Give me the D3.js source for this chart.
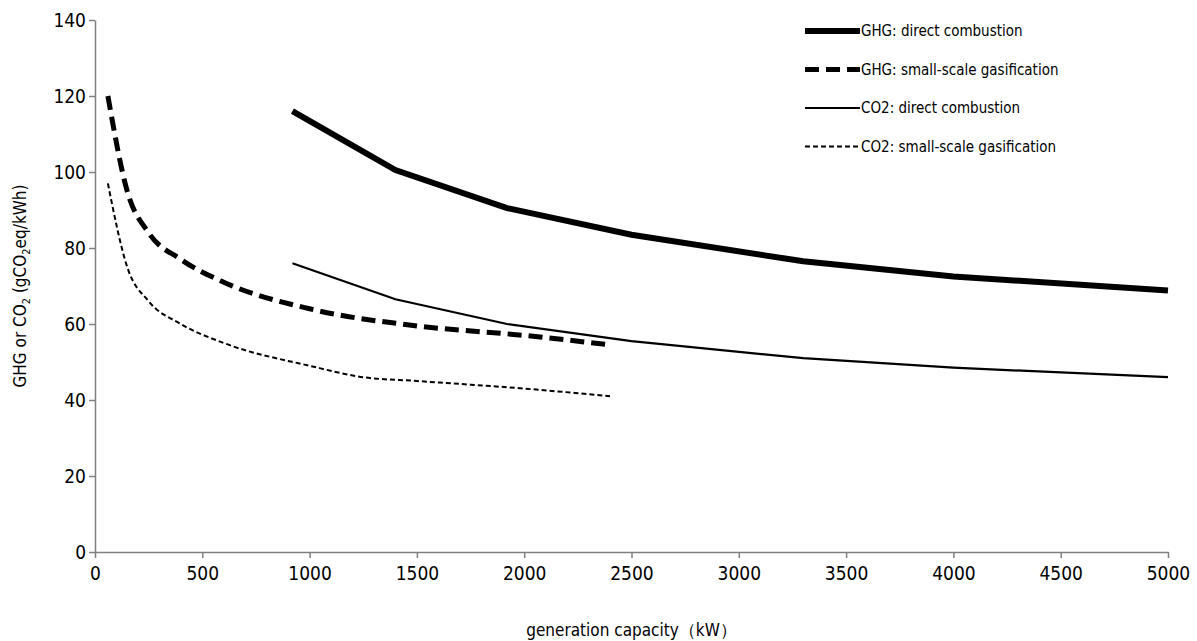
<!DOCTYPE html>
<html><head><meta charset="utf-8">
<script src="https://d3js.org/d3.v7.min.js"></script>
<style>body{margin:0;background:#fff}text{font-family:"Liberation Sans Narrow","DejaVu Sans Condensed",sans-serif}</style>
</head><body><div id="chart"></div>
<script>
// data
const ghgDirect = [[920,116],[1400,100.5],[1920,90.5],[2500,83.5],[3300,76.5],[4000,72.5],[5000,68.8]];
const ghgGasif = [[60,120],[150,95],[250,84],[400,77],[600,71],[1000,64],[1500,59.5],[2000,57],[2400,54.5]];
const co2Direct = [[920,76],[1400,66.5],[1920,60],[2500,55.5],[3300,51],[4000,48.5],[5000,46]];
const co2Gasif = [[60,97],[150,75],[250,66],[400,60],[600,55],[1000,49],[1250,46],[1500,45],[2000,43],[2400,41]];
const xTicks = d3.range(0, 5001, 500);
const yTicks = d3.range(0, 141, 20);

const W = 1197, H = 641;
const m = {left: 95, right: 29, top: 20, bottom: 89};
const svg = d3.select('#chart').append('svg').attr('width', W).attr('height', H);
const x = d3.scaleLinear().domain([0, 5000]).range([m.left, W - m.right]);
const y = d3.scaleLinear().domain([0, 140]).range([H - m.bottom, m.top]);

const xa = svg.append('g').attr('transform', `translate(0,${H - m.bottom})`)
  .call(d3.axisBottom(x).tickValues(xTicks).tickFormat(d3.format('d')).tickSize(6).tickSizeOuter(0));
const ya = svg.append('g').attr('transform', `translate(${m.left},0)`)
  .call(d3.axisLeft(y).tickValues(yTicks).tickSize(6).tickSizeOuter(0));
[xa, ya].forEach(a => {
  a.selectAll('path,line').attr('stroke', '#808080').attr('stroke-width', 1.5);
  a.selectAll('text').attr('font-size', 19).attr('fill', '#000');
});
xa.selectAll('text').attr('dy', '1em');
ya.selectAll('text').attr('dy', '0.35em');

svg.append('text').attr('x', (x(0) + x(5000)) / 2).attr('y', 636).attr('text-anchor', 'middle')
  .attr('font-size', 17).text('generation capacity（kW）');
const yl = svg.append('text').attr('transform', `translate(26,${y(70)}) rotate(-90)`)
  .attr('text-anchor', 'middle').attr('font-size', 17);
yl.append('tspan').text('GHG or CO');
yl.append('tspan').attr('font-size', 11).attr('dy', 4).text('2');
yl.append('tspan').attr('dy', -4).text(' (gCO');
yl.append('tspan').attr('font-size', 11).attr('dy', 4).text('2');
yl.append('tspan').attr('dy', -4).text('eq/kWh)');

const series = [
  {name: 'GHG: direct combustion', d: ghgDirect, w: 6, dash: null, curve: d3.curveLinear},
  {name: 'GHG: small-scale gasification', d: ghgGasif, w: 5, dash: '14,7', curve: d3.curveMonotoneX},
  {name: 'CO2: direct combustion', d: co2Direct, w: 2.2, dash: null, curve: d3.curveLinear},
  {name: 'CO2: small-scale gasification', d: co2Gasif, w: 2, dash: '5,3', curve: d3.curveMonotoneX}
];
series.forEach((s, i) => {
  const line = d3.line().x(p => x(p[0])).y(p => y(p[1])).curve(s.curve);
  svg.append('path').datum(s.d).attr('d', line).attr('fill', 'none').attr('stroke', '#000')
    .attr('stroke-width', s.w).attr('stroke-dasharray', s.dash);
  const ly = 31 + i * 38.5;
  svg.append('line').attr('x1', 805).attr('x2', 860).attr('y1', ly).attr('y2', ly)
    .attr('stroke', '#000').attr('stroke-width', s.w).attr('stroke-dasharray', s.dash);
  svg.append('text').attr('x', 861).attr('y', ly + 5).attr('font-size', 15).text(s.name);
});
</script></body></html>
